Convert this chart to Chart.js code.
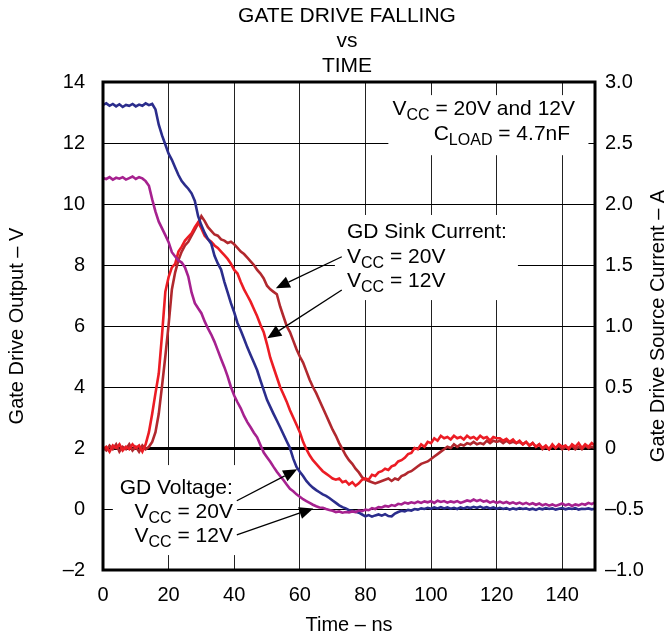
<!DOCTYPE html>
<html>
<head>
<meta charset="utf-8">
<title>Gate Drive Falling vs Time</title>
<script src="https://cdn.jsdelivr.net/npm/chart.js@4.4.0/dist/chart.umd.min.js"></script>
<style>
  html, body { margin: 0; padding: 0; background: #fff; }
  #wrap { width: 670px; height: 639px; }
</style>
</head>
<body>
<div id="wrap"><canvas id="gateChart" width="670" height="639"></canvas></div>
<script>
// time base, 1 ns per sample
const timeNs = [
  0, 1, 2, 3, 4, 5, 6, 7, 8, 9,
  10, 11, 12, 13, 14, 15, 16, 17, 18, 19,
  20, 21, 22, 23, 24, 25, 26, 27, 28, 29,
  30, 31, 32, 33, 34, 35, 36, 37, 38, 39,
  40, 41, 42, 43, 44, 45, 46, 47, 48, 49,
  50, 51, 52, 53, 54, 55, 56, 57, 58, 59,
  60, 61, 62, 63, 64, 65, 66, 67, 68, 69,
  70, 71, 72, 73, 74, 75, 76, 77, 78, 79,
  80, 81, 82, 83, 84, 85, 86, 87, 88, 89,
  90, 91, 92, 93, 94, 95, 96, 97, 98, 99,
  100, 101, 102, 103, 104, 105, 106, 107, 108, 109,
  110, 111, 112, 113, 114, 115, 116, 117, 118, 119,
  120, 121, 122, 123, 124, 125, 126, 127, 128, 129,
  130, 131, 132, 133, 134, 135, 136, 137, 138, 139,
  140, 141, 142, 143, 144, 145, 146, 147, 148, 149,
  150
];

// gate drive output voltage (V), VCC = 20V
const gateV20 = [
  13.25, 13.3, 13.22, 13.28, 13.2, 13.27, 13.18, 13.25, 13.22, 13.28,
  13.2, 13.26, 13.22, 13.3, 13.24, 13.28, 13.1, 12.6, 12.25, 11.95,
  11.65, 11.45, 11.2, 10.95, 10.75, 10.62, 10.5, 10.35, 10.1, 9.6,
  9.3, 9.05, 8.85, 8.7, 8.3, 8.05, 7.85, 7.45, 7.1, 6.75,
  6.45, 6.1, 5.85, 5.58, 5.3, 5.05, 4.8, 4.55, 4.22, 3.9,
  3.58, 3.35, 3.12, 2.9, 2.68, 2.45, 2.22, 2.0, 1.65, 1.38,
  1.22, 1.08, 0.92, 0.8, 0.7, 0.62, 0.55, 0.48, 0.43, 0.36,
  0.28, 0.2, 0.12, 0.06, 0.02, -0.04, -0.06, -0.09, -0.12, -0.18,
  -0.24, -0.2, -0.25, -0.21, -0.18, -0.22, -0.17, -0.23, -0.24, -0.15,
  -0.1, -0.06, -0.08, -0.03, -0.05, 0.0, -0.02, 0.02, 0.0, 0.04,
  0.01, 0.05, 0.02, 0.06, 0.02, 0.05, 0.01, 0.04, 0.0, 0.05,
  0.02, 0.06, 0.03, 0.07, 0.04, 0.08, 0.03, 0.06, 0.02, 0.05,
  0.01, 0.04, 0.0, 0.03, -0.02, 0.02, -0.01, 0.03, 0.0, 0.02,
  -0.02, 0.01, -0.03, 0.02, -0.01, 0.03, 0.0, 0.02, -0.02, 0.01,
  0.03, -0.01, 0.02, 0.0, 0.03, -0.02, 0.01, 0.0, 0.02, -0.01,
  0.01
];

// gate drive output voltage (V), VCC = 12V
const gateV12 = [
  10.85, 10.82, 10.88, 10.8, 10.86, 10.83, 10.88, 10.8, 10.85, 10.9,
  10.82, 10.88, 10.84, 10.75, 10.6, 10.15, 9.75, 9.42, 9.2, 8.98,
  8.75, 8.42, 8.28, 8.15, 8.08, 7.92, 7.62, 7.1, 6.75, 6.58,
  6.42, 6.15, 5.92, 5.72, 5.48, 5.2, 4.92, 4.65, 4.35, 4.0,
  3.72, 3.5, 3.3, 3.05, 2.85, 2.68, 2.5, 2.35, 2.1, 1.85,
  1.7, 1.55, 1.38, 1.22, 1.08, 0.95, 0.8, 0.66, 0.58, 0.48,
  0.4, 0.32, 0.26, 0.2, 0.14, 0.09, 0.05, 0.04, 0.0, -0.03,
  -0.06, -0.1, -0.08, -0.12, -0.1, -0.11, -0.08, -0.1, -0.05, -0.07,
  -0.02, -0.04, 0.03, 0.0, 0.06, 0.05, 0.1, 0.08, 0.13, 0.1,
  0.17, 0.15, 0.21, 0.18, 0.22, 0.19, 0.24, 0.2, 0.25, 0.22,
  0.26, 0.2, 0.27, 0.23, 0.26, 0.21, 0.25, 0.22, 0.26, 0.2,
  0.24, 0.28, 0.25, 0.31, 0.26, 0.3, 0.24, 0.27, 0.21, 0.25,
  0.2, 0.24, 0.19, 0.23, 0.18, 0.22, 0.17, 0.21, 0.16, 0.2,
  0.15, 0.19, 0.14, 0.18, 0.12, 0.16, 0.11, 0.15, 0.1, 0.14,
  0.18, 0.12, 0.16, 0.1, 0.15, 0.12, 0.17, 0.14, 0.2, 0.16,
  0.22
];

// sink current (A), VCC = 20V
const sinkA20 = [
  0.0, -0.02, 0.02, -0.01, 0.03, -0.03, 0.01, -0.01, 0.03, -0.02,
  0.01, -0.03, 0.02, -0.01, 0.01, 0.05, 0.13, 0.28, 0.51, 0.75,
  1.01, 1.3, 1.44, 1.54, 1.61, 1.66, 1.69, 1.74, 1.79, 1.84,
  1.9, 1.86, 1.81, 1.78, 1.75, 1.74, 1.71, 1.7, 1.68, 1.69,
  1.67, 1.64, 1.61, 1.59, 1.56, 1.53, 1.5, 1.46, 1.43, 1.39,
  1.33, 1.3, 1.28, 1.26, 1.16, 1.08, 1.0, 0.95, 0.88, 0.81,
  0.75, 0.7, 0.63, 0.56, 0.5, 0.45, 0.39, 0.33, 0.27, 0.21,
  0.15, 0.1, 0.04, -0.01, -0.06, -0.1, -0.13, -0.17, -0.2, -0.24,
  -0.26, -0.27, -0.28, -0.29, -0.28, -0.27, -0.26, -0.25, -0.27, -0.25,
  -0.26, -0.23, -0.22, -0.2, -0.19, -0.17, -0.15, -0.13, -0.12, -0.11,
  -0.09, -0.07, -0.05, -0.03, -0.01, 0.01, 0.0, 0.03, 0.01, 0.03,
  0.02, 0.04, 0.03, 0.05, 0.03, 0.04, 0.03, 0.06, 0.04, 0.06,
  0.05, 0.06, 0.04, 0.06, 0.04, 0.05, 0.04, 0.05, 0.03, 0.05,
  0.02, 0.04, 0.01, 0.03, -0.01, 0.01, -0.01, 0.02, 0.0, 0.02,
  -0.01, 0.01, 0.0, 0.02, -0.01, 0.01, -0.01, 0.02, 0.0, 0.01,
  0.0
];

// sink current (A), VCC = 12V
const sinkA12 = [
  -0.01, 0.01, -0.03, 0.02, 0.0, 0.03, -0.02, 0.01, -0.01, 0.03,
  0.0, 0.02, -0.03, 0.03, 0.13, 0.28, 0.45, 0.61, 0.93, 1.28,
  1.4, 1.48, 1.51, 1.61, 1.65, 1.7, 1.73, 1.76, 1.81, 1.85,
  1.8, 1.74, 1.71, 1.69, 1.66, 1.64, 1.61, 1.58, 1.55, 1.51,
  1.46, 1.43, 1.36, 1.3, 1.25, 1.2, 1.14, 1.08, 1.01, 0.95,
  0.85, 0.74, 0.66, 0.58, 0.5, 0.44, 0.38, 0.31, 0.25, 0.19,
  0.13, 0.05, -0.01, -0.06, -0.1, -0.13, -0.16, -0.19, -0.21, -0.23,
  -0.25, -0.26, -0.25, -0.28, -0.27, -0.3, -0.28, -0.31, -0.29, -0.26,
  -0.25, -0.26, -0.22, -0.23, -0.2, -0.19, -0.17, -0.18, -0.15, -0.14,
  -0.11, -0.1, -0.08, -0.05, -0.04, 0.0, -0.01, 0.03, 0.01, 0.05,
  0.04, 0.08, 0.06, 0.1, 0.08, 0.09, 0.07, 0.1, 0.08, 0.09,
  0.07, 0.1, 0.08, 0.09, 0.07, 0.1, 0.08, 0.09, 0.06, 0.09,
  0.08, 0.08, 0.06, 0.075, 0.05, 0.07, 0.04, 0.06, 0.03, 0.05,
  0.02, 0.04, 0.01, 0.03, 0.0, 0.02, -0.01, 0.03, 0.0, 0.03,
  0.01, 0.02, -0.01, 0.03, 0.01, 0.04, 0.0, 0.03, 0.01, 0.04,
  0.02
];

const xTickLabels = ['0', '20', '40', '60', '80', '100', '120', '140'];
const voltTickLabels = ['–2', '0', '2', '4', '6', '8', '10', '12', '14'];
const ampTickLabels = ['–1.0', '–0.5', '0', '0.5', '1.0', '1.5', '2.0', '2.5', '3.0'];

const titleLines = ['GATE DRIVE FALLING', 'vs', 'TIME'];

// '|' toggles subscript text
const loadNote = ['V|CC| = 20V and 12V', 'C|LOAD| = 4.7nF'];
const sinkNote = ['GD Sink Current:', 'V|CC| = 20V', 'V|CC| = 12V'];
const voltNote = ['GD Voltage:', 'V|CC| = 20V', 'V|CC| = 12V'];

const FONT = '"Liberation Sans", Arial, Helvetica, sans-serif';
const mainFont = `21px ${FONT}`;
const subFont = `16px ${FONT}`;

// white patches behind the notes, in axis units [t0, t1, vTop, vBottom]
const clearBoxes = [
  [87, 148, 13.57, 11.6],
  [70.7, 126.5, 9.64, 6.85],
  [3, 40.9, 1.44, -1.51]
];

// arrows, [tFrom, vFrom, tTip, vTip]
const arrows = [
  [72.8, 8.27, 52.7, 7.24],
  [72.8, 7.18, 50.1, 5.6],
  [40.8, 0.27, 59.2, 1.3],
  [40.8, -0.85, 64.1, 0.02]
];

function drawRich(ctx, str, x, y, align) {
  const parts = str.split('|');
  let w = 0;
  parts.forEach((p, i) => {
    ctx.font = i % 2 ? subFont : mainFont;
    w += ctx.measureText(p).width;
  });
  let cx = align === 'right' ? x - w : x;
  parts.forEach((p, i) => {
    ctx.font = i % 2 ? subFont : mainFont;
    ctx.fillText(p, cx, y + (i % 2 ? 5 : 0));
    cx += ctx.measureText(p).width;
  });
}

function drawArrow(ctx, x0, y0, x1, y1) {
  const ang = Math.atan2(y1 - y0, x1 - x0);
  const len = 14, half = 6;
  const bx = x1 - len * Math.cos(ang);
  const by = y1 - len * Math.sin(ang);
  ctx.beginPath();
  ctx.moveTo(x0, y0);
  ctx.lineTo(bx, by);
  ctx.stroke();
  ctx.beginPath();
  ctx.moveTo(x1, y1);
  ctx.lineTo(bx + half * Math.sin(ang), by - half * Math.cos(ang));
  ctx.lineTo(bx - half * Math.sin(ang), by + half * Math.cos(ang));
  ctx.closePath();
  ctx.fill();
}

const notesPlugin = {
  id: 'notes',
  beforeDatasetsDraw(chart) {
    const { ctx, scales: { x, y } } = chart;
    ctx.save();
    ctx.fillStyle = '#fff';
    for (const b of clearBoxes) {
      const x0 = x.getPixelForValue(b[0]);
      const x1 = x.getPixelForValue(b[1]);
      const y0 = y.getPixelForValue(b[2]);
      const y1 = y.getPixelForValue(b[3]);
      ctx.fillRect(x0, y0, x1 - x0, y1 - y0);
    }
    ctx.restore();
  },
  afterDatasetsDraw(chart) {
    const { ctx, chartArea: a, scales: { x, y } } = chart;
    const px = (t) => x.getPixelForValue(t);
    const py = (v) => y.getPixelForValue(v);
    ctx.save();

    // plot frame
    ctx.strokeStyle = '#000';
    ctx.lineWidth = 3;
    ctx.strokeRect(a.left, a.top, a.right - a.left, a.bottom - a.top);

    ctx.fillStyle = '#000';
    ctx.textAlign = 'left';
    ctx.textBaseline = 'alphabetic';

    drawRich(ctx, loadNote[0], px(143.9), py(12.92), 'right');
    drawRich(ctx, loadNote[1], px(142.4), py(12.1), 'right');

    drawRich(ctx, sinkNote[0], px(74.4), py(8.89), 'left');
    drawRich(ctx, sinkNote[1], px(74.4), py(8.07), 'left');
    drawRich(ctx, sinkNote[2], px(74.4), py(7.28), 'left');

    drawRich(ctx, voltNote[0], px(39.6), py(0.49), 'right');
    drawRich(ctx, voltNote[1], px(39.6), py(-0.3), 'right');
    drawRich(ctx, voltNote[2], px(39.6), py(-1.08), 'right');

    ctx.lineWidth = 1.3;
    for (const ar of arrows) {
      drawArrow(ctx, px(ar[0]), py(ar[1]), px(ar[2]), py(ar[3]));
    }
    ctx.restore();
  },
  afterDraw(chart) {
    const { ctx, chartArea: a } = chart;
    ctx.save();
    ctx.fillStyle = '#000';
    ctx.font = mainFont;
    ctx.textAlign = 'center';
    ctx.textBaseline = 'alphabetic';
    const cx = (a.left + a.right) / 2 - 2;
    titleLines.forEach((line, i) => ctx.fillText(line, cx, 22 + i * 25));

    // right axis title reads bottom to top like the left one
    ctx.font = `20px ${FONT}`;
    ctx.translate(658, (a.top + a.bottom) / 2);
    ctx.rotate(-Math.PI / 2);
    ctx.textBaseline = 'middle';
    ctx.fillText('Gate Drive Source Current – A', 0, 0);
    ctx.restore();
  }
};

const toPoints = (vals) => timeNs.map((t, i) => ({ x: t, y: vals[i] }));

const tickFont = { family: FONT, size: 20 };

new Chart(document.getElementById('gateChart'), {
  type: 'line',
  data: {
    datasets: [
      { label: 'GD Voltage VCC = 12V', data: toPoints(gateV12), yAxisID: 'y', borderColor: '#a6218f' },
      { label: 'GD Voltage VCC = 20V', data: toPoints(gateV20), yAxisID: 'y', borderColor: '#2b2d8c' },
      { label: 'GD Sink Current VCC = 12V', data: toPoints(sinkA12), yAxisID: 'y1', borderColor: '#ec1c24' },
      { label: 'GD Sink Current VCC = 20V', data: toPoints(sinkA20), yAxisID: 'y1', borderColor: '#b1282e' }
    ]
  },
  options: {
    responsive: false,
    animation: false,
    elements: {
      point: { radius: 0 },
      line: { borderWidth: 2.6, tension: 0 }
    },
    layout: { padding: { top: 82, left: 0, right: 0, bottom: 0 } },
    plugins: {
      legend: { display: false },
      tooltip: { enabled: false }
    },
    scales: {
      x: {
        type: 'linear',
        min: 0,
        max: 150,
        afterFit: (s) => { s.height = 69; },
        ticks: {
          stepSize: 20,
          includeBounds: false,
          padding: 13,
          color: '#000',
          font: tickFont,
          callback: (v, i) => xTickLabels[i]
        },
        grid: { color: '#222', lineWidth: 1, drawTicks: false },
        border: { display: false },
        title: {
          display: true,
          text: 'Time – ns',
          color: '#000',
          font: tickFont,
          padding: { top: 0, bottom: 2 }
        }
      },
      y: {
        position: 'left',
        min: -2,
        max: 14,
        afterFit: (s) => { s.width = 103; },
        ticks: {
          stepSize: 2,
          padding: 18,
          color: '#000',
          font: tickFont,
          callback: (v, i) => voltTickLabels[i]
        },
        grid: {
          color: '#000',
          lineWidth: (c) => (c.tick && c.tick.value === 2 ? 3 : 1),
          drawTicks: false
        },
        border: { display: false },
        title: {
          display: true,
          text: 'Gate Drive Output – V',
          color: '#000',
          font: tickFont,
          padding: { top: 5, bottom: 0 }
        }
      },
      y1: {
        position: 'right',
        min: -1,
        max: 3,
        afterFit: (s) => { s.width = 75; },
        ticks: {
          stepSize: 0.5,
          padding: 10,
          color: '#000',
          font: tickFont,
          callback: (v, i) => ampTickLabels[i]
        },
        grid: { display: false, drawTicks: false },
        border: { display: false }
      }
    }
  },
  plugins: [notesPlugin]
});
</script>
</body>
</html>
